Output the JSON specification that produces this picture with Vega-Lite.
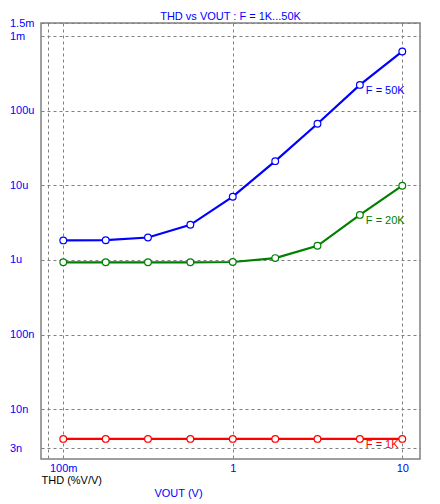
{
  "$schema": "https://vega.github.io/schema/vega-lite/v6.json",
  "width": 379,
  "height": 436,
  "autosize": {"type": "none"},
  "padding": {"left": 41, "top": 23, "right": 20, "bottom": 45},
  "background": "white",
  "title": {"text": "THD vs VOUT : F = 1K...50K", "color": "#0000FF", "font": "Liberation Sans", "fontSize": 11, "fontWeight": "normal", "anchor": "middle", "offset": 3, "dy": 8},
  "config": {
    "view": {"stroke": "#808080", "strokeWidth": 1.5},
    "axis": {"labelFont": "Liberation Sans", "labelFontSize": 11, "labelColor": "#0000FF", "titleFont": "Liberation Sans", "titleFontSize": 11, "titleFontWeight": "normal", "grid": true, "gridColor": "#808080", "gridDash": [3, 3], "gridWidth": 1, "gridOpacity": 1, "ticks": false, "tickSize": 0, "domain": false, "labelOverlap": false, "labelFlush": false, "labelBound": false}
  },
  "data": {
    "values": [
      {"series": "F = 50K", "x": 0.1, "y": 1.83e-6},
      {"series": "F = 50K", "x": 0.178, "y": 1.84e-6},
      {"series": "F = 50K", "x": 0.316, "y": 2.0e-6},
      {"series": "F = 50K", "x": 0.562, "y": 2.96e-6},
      {"series": "F = 50K", "x": 1, "y": 7.05e-6},
      {"series": "F = 50K", "x": 1.78, "y": 21.1e-6},
      {"series": "F = 50K", "x": 3.16, "y": 67e-6},
      {"series": "F = 50K", "x": 5.62, "y": 222e-6, "label": "F = 50K"},
      {"series": "F = 50K", "x": 10, "y": 623e-6},
      {"series": "F = 20K", "x": 0.1, "y": 0.93e-6},
      {"series": "F = 20K", "x": 0.178, "y": 0.93e-6},
      {"series": "F = 20K", "x": 0.316, "y": 0.93e-6},
      {"series": "F = 20K", "x": 0.562, "y": 0.93e-6},
      {"series": "F = 20K", "x": 1, "y": 0.94e-6},
      {"series": "F = 20K", "x": 1.78, "y": 1.06e-6},
      {"series": "F = 20K", "x": 3.16, "y": 1.55e-6},
      {"series": "F = 20K", "x": 5.62, "y": 4.02e-6, "label": "F = 20K"},
      {"series": "F = 20K", "x": 10, "y": 9.9e-6},
      {"series": "F = 1K", "x": 0.1, "y": 4.0e-9},
      {"series": "F = 1K", "x": 0.178, "y": 4.0e-9},
      {"series": "F = 1K", "x": 0.316, "y": 4.0e-9},
      {"series": "F = 1K", "x": 0.562, "y": 4.0e-9},
      {"series": "F = 1K", "x": 1, "y": 4.0e-9},
      {"series": "F = 1K", "x": 1.78, "y": 4.0e-9},
      {"series": "F = 1K", "x": 3.16, "y": 4.0e-9},
      {"series": "F = 1K", "x": 5.62, "y": 4.0e-9, "label": "F = 1K"},
      {"series": "F = 1K", "x": 10, "y": 4.0e-9}
    ]
  },
  "encoding": {
    "x": {
      "field": "x", "type": "quantitative",
      "scale": {"type": "log", "domain": [0.0739, 12.72], "nice": false},
      "axis": {
        "values": [0.0809, 0.1, 1, 10],
        "labelExpr": "datum.value == 0.1 ? '100m' : datum.value == 1 ? '1' : datum.value == 10 ? '10' : ''",
        "labelPadding": 3,
        "title": "VOUT (V)", "titleColor": "#0000FF", "titleX": 137, "titleY": 34, "titleAlign": "center", "titleBaseline": "middle"
      }
    },
    "y": {
      "field": "y", "type": "quantitative",
      "scale": {"type": "log", "domain": [2.15e-9, 1.5e-3], "nice": false},
      "axis": {
        "values": [1.5e-3, 1e-3, 1e-4, 1e-5, 1e-6, 1e-7, 1e-8, 3e-9],
        "labelExpr": "datum.value > 1.2e-3 ? '1.5m' : datum.value > 5e-4 ? '1m' : datum.value > 5e-5 ? '100u' : datum.value > 5e-6 ? '10u' : datum.value > 5e-7 ? '1u' : datum.value > 5e-8 ? '100n' : datum.value > 5e-9 ? '10n' : '3n'",
        "labelAlign": "left", "labelBaseline": "middle", "labelPadding": 31.5,
        "title": "THD (%V/V)", "titleColor": "#000000", "titleAngle": 0, "titleX": 0, "titleY": 457, "titleAlign": "left", "titleBaseline": "middle"
      }
    },
    "color": {
      "field": "series", "type": "nominal",
      "scale": {"domain": ["F = 50K", "F = 20K", "F = 1K"], "range": ["#0000FF", "#008000", "#FF0000"]},
      "legend": null
    }
  },
  "layer": [
    {
      "mark": {"type": "line", "strokeWidth": 2.2, "point": {"filled": false, "fill": "white", "size": 45, "strokeWidth": 1.2}}
    },
    {
      "transform": [{"filter": "datum.label"}],
      "mark": {"type": "text", "align": "left", "baseline": "middle", "dx": 6, "dy": 6, "font": "Liberation Sans", "fontSize": 11},
      "encoding": {"text": {"field": "label"}}
    }
  ]
}
